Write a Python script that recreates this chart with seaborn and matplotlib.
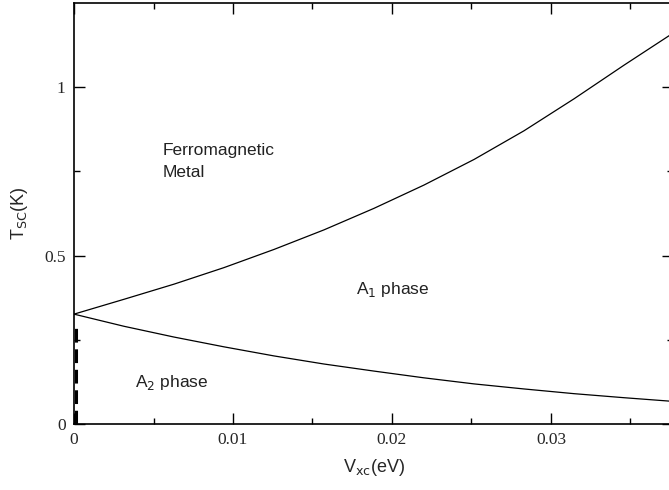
import matplotlib
matplotlib.use("Agg")
import matplotlib.pyplot as plt
import seaborn as sns
import numpy as np
from matplotlib.ticker import MultipleLocator

# Data
vxc = [0.0, 0.00314, 0.00629, 0.00943, 0.01258, 0.01572, 0.01887,
       0.02201, 0.02516, 0.0283, 0.03145, 0.0346, 0.03742, 0.03774]
t_upper = [0.326, 0.370, 0.415, 0.464, 0.518, 0.576, 0.640,
           0.709, 0.785, 0.870, 0.965, 1.065, 1.152, 1.162]
t_lower = [0.326, 0.290, 0.258, 0.229, 0.202, 0.178, 0.157,
           0.137, 0.119, 0.104, 0.090, 0.078, 0.068, 0.067]
dash_x = [0.00015, 0.00015]
dash_y = [0.0, 0.30]

xticks = [0, 0.01, 0.02, 0.03]
xticklabels = ["0", "0.01", "0.02", "0.03"]
yticks = [0, 0.5, 1]
yticklabels = ["0", "0.5", "1"]

sns.set_style("ticks")
plt.rcParams["font.family"] = ["Liberation Sans", "DejaVu Sans"]

fig = plt.figure(figsize=(6.69, 4.90), dpi=100)
ax = fig.add_axes([74/669, (490-424)/490, (673-74)/669, (424-3)/490])

sns.lineplot(x=vxc, y=t_upper, ax=ax, color="black", lw=0.9, sort=False, estimator=None)
sns.lineplot(x=vxc, y=t_lower, ax=ax, color="black", lw=0.9, sort=False, estimator=None)
sns.lineplot(x=dash_x, y=dash_y, ax=ax, color="black", lw=2.2, sort=False,
             estimator=None, linestyle=(0, (4.5, 2.2)))

ax.set_xlim(0, (673-74)/15900)
ax.set_ylim(0, 421/337)

ax.set_xticks(xticks)
ax.set_xticklabels(xticklabels)
ax.set_yticks(yticks)
ax.set_yticklabels(yticklabels)
ax.xaxis.set_minor_locator(MultipleLocator(0.005))
ax.yaxis.set_minor_locator(MultipleLocator(0.25))

ax.tick_params(which="both", direction="in", top=True, right=True, color="black", width=1.0)
ax.tick_params(which="major", length=8, pad=6)
ax.tick_params(which="minor", length=4.5)
for lab in ax.get_xticklabels() + ax.get_yticklabels():
    lab.set_fontfamily("Liberation Serif")
    lab.set_fontsize(12.5)

for s in ax.spines.values():
    s.set_linewidth(1.2)
    s.set_color("black")

ax.set_xlabel(r"V$_{\rm xc}$(eV)", fontsize=13, labelpad=6)
ax.set_ylabel(r"T$_{\rm SC}$(K)", fontsize=13, labelpad=10)

txt_kw = dict(fontsize=12.5, color="#222222", va="center", ha="left")
ax.text(0.0056, 0.779, "Ferromagnetic\nMetal", linespacing=1.6, **txt_kw)
ax.text(0.01774, 0.398, r"A$_1$ phase", **txt_kw)
ax.text(0.00384, 0.122, r"A$_2$ phase", **txt_kw)

fig.savefig("out.png", dpi=100)
